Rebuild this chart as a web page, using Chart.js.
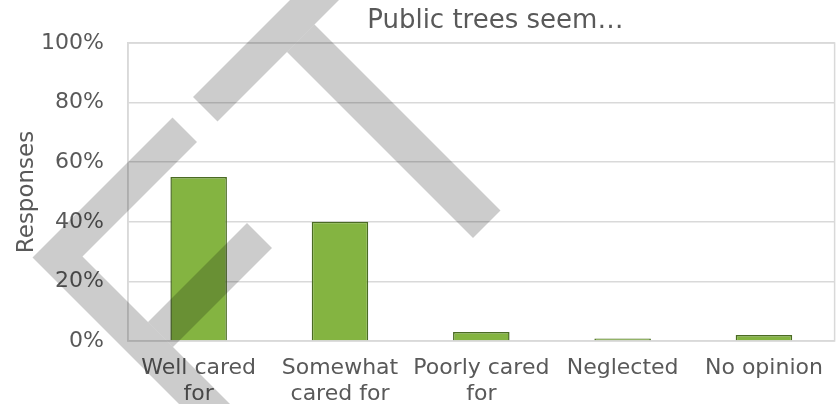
<!DOCTYPE html>
<html>
<head>
<meta charset="utf-8">
<script src="https://cdn.jsdelivr.net/npm/chart.js@4"></script>
<style>
  body { margin: 0; background: #fff; }
  #wrap { width: 837px; height: 404px; }
</style>
</head>
<body>
<div id="wrap"><canvas id="treesChart"></canvas></div>
<script>
// data
const categories = [["Well cared", "for"], ["Somewhat", "cared for"], ["Poorly cared", "for"], "Neglected", "No opinion"];
const responses = [55, 40, 3, 0.5, 2];
const chartTitle = "Public trees seem…";
const axisTitle = "Responses";

const textColor = "#595959";
const gridColor = "#d9d9d9";
const fontFamily = "'DejaVu Sans', sans-serif";

// plot frame + title drawn relative to chart area
const framePlugin = {
  id: "frame",
  beforeDatasetsDraw(chart) {
    const { ctx, chartArea: a } = chart;
    ctx.save();
    ctx.strokeStyle = gridColor;
    ctx.lineWidth = 1.5;
    ctx.strokeRect(a.left, a.top, a.right - a.left, a.bottom - a.top);
    ctx.restore();
  },
  afterDraw(chart) {
    const { ctx, chartArea: a } = chart;
    ctx.save();
    ctx.fillStyle = textColor;
    ctx.font = "26px " + fontFamily;
    ctx.textAlign = "center";
    ctx.textBaseline = "alphabetic";
    ctx.fillText(chartTitle, (a.left + a.right) / 2 + 14, 28);
    ctx.restore();
  }
};

// grey watermark overlay (house outline)
const watermarkPlugin = {
  id: "watermark",
  afterDraw(chart) {
    const ctx = chart.ctx;
    const shapes = [
      [[193, 97], [217.5, 121.5], [369.5, -30.5], [345, -55]],
      [[314.5, 24.5], [500.5, 210.5], [473, 238], [287, 52]],
      [[172.5, 117.5], [32.5, 257.5], [337.5, 562.5], [363, 537], [82.5, 256.5], [197, 142]],
      [[148, 322], [247, 223], [272, 248], [173, 347]]
    ];
    ctx.save();
    ctx.fillStyle = "rgba(0,0,0,0.2)";
    shapes.forEach(function (pts) {
      ctx.beginPath();
      pts.forEach(function (p, i) {
        if (i === 0) ctx.moveTo(p[0], p[1]);
        else ctx.lineTo(p[0], p[1]);
      });
      ctx.closePath();
      ctx.fill();
    });
    ctx.restore();
  }
};

new Chart(document.getElementById("treesChart"), {
  type: "bar",
  data: {
    labels: categories,
    datasets: [
      {
        label: axisTitle,
        data: responses,
        backgroundColor: "#84b441",
        borderColor: "#4a6b23",
        borderWidth: 1.5,
        minBarLength: 2.5,
        barPercentage: 0.4,
        categoryPercentage: 1,
      },
    ],
  },
  options: {
    responsive: true,
    maintainAspectRatio: false,
    animation: false,
    layout: { padding: { top: 43, left: 10, right: 1, bottom: 0 } },
    plugins: {
      legend: { display: false },
      tooltip: { enabled: false },
    },
    scales: {
      x: {
        grid: { display: false, drawTicks: false },
        border: { display: false },
        afterFit: function (scale) { scale.height = 63; },
        ticks: {
          color: textColor,
          padding: 14,
          maxRotation: 0,
          autoSkip: false,
          font: { family: fontFamily, size: 22, lineHeight: 1.2 },
        },
      },
      y: {
        min: 0,
        max: 100,
        grid: { color: gridColor, lineWidth: 1.5, drawTicks: false },
        border: { color: gridColor, width: 1.5 },
        afterFit: function (scale) { scale.width = 118; },
        title: {
          display: true,
          text: axisTitle,
          color: textColor,
          padding: { top: 3, bottom: 0 },
          font: { family: fontFamily, size: 23 },
        },
        ticks: {
          stepSize: 20,
          color: textColor,
          padding: 24,
          font: { family: fontFamily, size: 22 },
          callback: function (v) { return v + "%"; },
        },
      },
    },
  },
  plugins: [framePlugin, watermarkPlugin],
});
</script>
</body>
</html>
